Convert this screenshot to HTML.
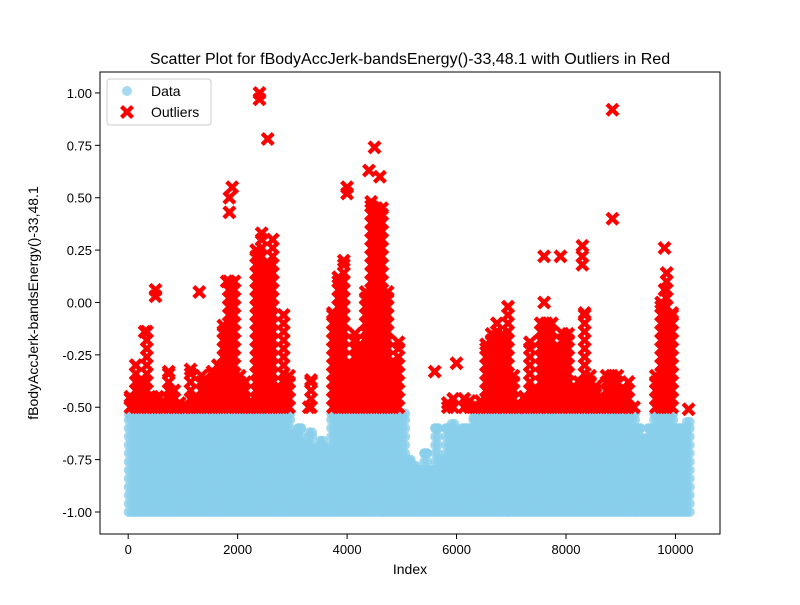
<!DOCTYPE html>
<html><head><meta charset="utf-8"><style>
body{margin:0;background:#fff;}
svg text{font-family:"Liberation Sans","DejaVu Sans",sans-serif;}
</style></head><body>
<svg id="chart" width="800" height="600" xmlns="http://www.w3.org/2000/svg">
<rect width="800" height="600" fill="#fff"/>
<text x="410" y="64" font-size="16" text-anchor="middle">Scatter Plot for fBodyAccJerk-bandsEnergy()-33,48.1 with Outliers in Red</text>
<g id="marks"></g>
<rect x="100" y="72" width="620" height="462" fill="none" stroke="#000" stroke-width="1"/>
<g id="axes"></g>
<text x="410" y="574" font-size="14" text-anchor="middle">Index</text>
<text transform="translate(38,303) rotate(-90)" font-size="14" text-anchor="middle">fBodyAccJerk-bandsEnergy()-33,48.1</text>
<g>
<rect x="107" y="79" width="104" height="46" rx="3" fill="#fff" fill-opacity="0.8" stroke="#ccc"/>
<circle cx="127" cy="91" r="5" fill="#87CEEB" fill-opacity="0.75"/>
<text x="151" y="96" font-size="14">Data</text>
<path transform="translate(127,112)" d="M-7,-4 L-4,-7 L0,-3 L4,-7 L7,-4 L3,0 L7,4 L4,7 L0,3 L-4,7 L-7,4 L-3,0Z" fill="red"/>
<text x="151" y="117" font-size="14">Outliers</text>
</g>
</svg>
<script>
// bins every 100 indices, 0..10200
const binStart = Array.from({length:103},(_,i)=>i*100);
const blueTop = [-0.53,-0.53,-0.53,-0.53,-0.53,-0.53,-0.53,-0.53,-0.53,-0.53,
-0.53,-0.53,-0.53,-0.53,-0.53,-0.53,-0.53,-0.53,-0.53,-0.53,
-0.53,-0.53,-0.53,-0.53,-0.53,-0.53,-0.53,-0.53,-0.53,-0.53,
-0.63,-0.60,-0.67,-0.62,-0.70,-0.66,-0.70,-0.53,-0.53,-0.53,
-0.53,-0.53,-0.53,-0.53,-0.53,-0.53,-0.53,-0.53,-0.53,-0.53,
-0.53,-0.75,-0.78,-0.80,-0.72,-0.80,-0.60,-0.75,-0.60,-0.58,
-0.62,-0.60,-0.60,-0.55,-0.55,-0.53,-0.53,-0.53,-0.53,-0.53,
-0.53,-0.53,-0.53,-0.53,-0.53,-0.53,-0.53,-0.53,-0.53,-0.53,
-0.53,-0.53,-0.53,-0.53,-0.53,-0.53,-0.53,-0.53,-0.53,-0.53,
-0.53,-0.53,-0.53,-0.60,-0.65,-0.60,-0.53,-0.53,-0.53,-0.53,
-0.60,-0.60,-0.57];
const redTop = [-0.45,-0.30,-0.38,-0.14,-0.45,-0.45,-0.47,-0.33,-0.42,-0.48,
-0.50,-0.32,-0.45,-0.35,-0.38,-0.33,-0.30,-0.11,0.10,0.10,
-0.35,-0.38,-0.47,0.25,0.33,0.18,0.30,-0.40,-0.06,-0.35,
null,null,null,-0.37,null,null,null,-0.05,0.12,0.20,
-0.30,-0.15,-0.20,0.05,0.48,0.45,0.45,0.05,-0.28,-0.19,
null,null,null,null,null,null,null,null,-0.48,-0.46,
null,-0.46,-0.47,-0.50,-0.47,-0.20,-0.15,-0.10,-0.15,-0.02,
-0.35,-0.50,-0.45,-0.19,-0.42,-0.10,-0.10,-0.10,-0.22,-0.15,
-0.15,-0.40,-0.38,-0.05,-0.35,-0.40,-0.45,-0.35,-0.35,-0.35,
-0.42,-0.38,-0.50,null,null,null,-0.35,0.00,0.14,-0.05,
null,null,-0.51];
const isoIdx = [8850,8850,2400,2400,2550,1300,500,500,6000,5600,3300,8300,8300,8300,7600,7600,7900,9800,4500,4000,4000,1900,1850,1850,4400,4600,300,1800,9800];
const isoVal = [0.40,0.92,1.00,0.97,0.78,0.05,0.06,0.03,-0.29,-0.33,-0.50,0.27,0.22,0.18,0.22,0.00,0.22,0.26,0.74,0.55,0.52,0.55,0.50,0.43,0.63,0.60,-0.14,0.10,0.06];
const xTicks = [0,2000,4000,6000,8000,10000];
const yTicks = [-1.00,-0.75,-0.50,-0.25,0.00,0.25,0.50,0.75,1.00];

const X0=100,X1=720,Y0=534,Y1=72, xMin=-515, xMax=10814, yMin=-1.105, yMax=1.1;
const sx=v=>X0+(v-xMin)/(xMax-xMin)*(X1-X0);
const sy=v=>Y0-(v-yMin)/(yMax-yMin)*(Y0-Y1);
const NS="http://www.w3.org/2000/svg";
const marks=document.getElementById('marks');
const axes=document.getElementById('axes');
const xs="M-7,-4 L-4,-7 L0,-3 L4,-7 L7,-4 L3,0 L7,4 L4,7 L0,3 L-4,7 L-7,4 L-3,0Z";
function circ(ix,v){const c=document.createElementNS(NS,'circle');


c.setAttribute('cx',sx(ix).toFixed(1));c.setAttribute('cy',sy(v).toFixed(1));c.setAttribute('r',5);
c.setAttribute('fill','#87CEEB');c.setAttribute('fill-opacity','0.8');marks.appendChild(c);}
function cross(ix,v){const p=document.createElementNS(NS,'path');


p.setAttribute('d',xs);p.setAttribute('transform','translate('+sx(ix).toFixed(1)+','+sy(v).toFixed(1)+')');
p.setAttribute('fill','red');marks.appendChild(p);}
binStart.forEach((b,i)=>{
  [10,60].forEach(o=>{const t=blueTop[i];for(let v=-1;v<=t+0.001;v+=0.04)circ(b+o,Math.min(v,t));circ(b+o,t);});
});
binStart.forEach((b,i)=>{const t=redTop[i];if(t===null)return;
  for(let v=-0.5;v<=t+0.001;v+=0.04)cross(b+40,v);cross(b+40,t);});
isoIdx.forEach((ix,i)=>cross(ix,isoVal[i]));
xTicks.forEach(t=>{const x=sx(t);
 const l=document.createElementNS(NS,'line');
 
 
 l.setAttribute('x1',x);l.setAttribute('x2',x);l.setAttribute('y1',534);l.setAttribute('y2',539);l.setAttribute('stroke','#000');axes.appendChild(l);
 const tx=document.createElementNS(NS,'text');
 
 
 tx.setAttribute('x',x);tx.setAttribute('y',554);tx.setAttribute('font-size','13');tx.setAttribute('text-anchor','middle');tx.textContent=t;axes.appendChild(tx);});
yTicks.forEach(t=>{const y=sy(t);
 const l=document.createElementNS(NS,'line');
 
 
 l.setAttribute('x1',95);l.setAttribute('x2',100);l.setAttribute('y1',y);l.setAttribute('y2',y);l.setAttribute('stroke','#000');axes.appendChild(l);
 const tx=document.createElementNS(NS,'text');
 
 
 tx.setAttribute('x',92);tx.setAttribute('y',y+5);tx.setAttribute('font-size','13');tx.setAttribute('text-anchor','end');tx.textContent=t.toFixed(2);axes.appendChild(tx);});
</script>
</body></html>
